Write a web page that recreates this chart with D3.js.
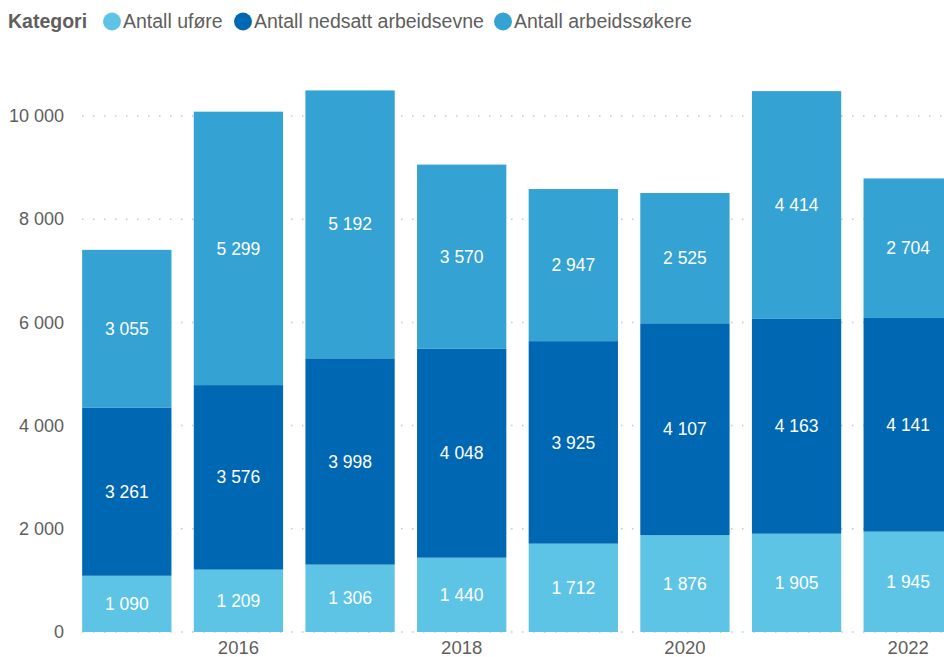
<!DOCTYPE html>
<html><head><meta charset="utf-8">
<script src="https://cdn.jsdelivr.net/npm/d3@7"></script>
<style>body{margin:0;background:#fff;overflow:hidden}svg{display:block;font-family:"Liberation Sans",Arial,sans-serif}</style>
</head><body>
<svg id="c" width="944" height="657"></svg>
<script>
const years = [2015, 2016, 2017, 2018, 2019, 2020, 2021, 2022];
const xTickLabels = [2016, 2018, 2020, 2022];
const yTicks = [0, 2000, 4000, 6000, 8000, 10000];
const seriesNames = ["Antall uføre", "Antall nedsatt arbeidsevne", "Antall arbeidssøkere"];
const seriesColors = ["#5EC4E5", "#0068B2", "#34A2D3"];
const ufore = [1090, 1209, 1306, 1440, 1712, 1876, 1905, 1945];
const nedsatt = [3261, 3576, 3998, 4048, 3925, 4107, 4163, 4141];
const sokere = [3055, 5299, 5192, 3570, 2947, 2525, 4414, 2704];

const svg = d3.select("#c");
const fmt = v => d3.format(",")(v).replace(/,/g, " ");
const x = d3.scaleBand().domain(years).range([71, 964]).paddingInner(0.2).paddingOuter(0.1);
const y = d3.scaleLinear().domain([0, 10000]).range([632, 116]);
const labelColor = "#605E5C";

// gridlines
svg.append("g").selectAll("line").data(yTicks).join("line")
  .attr("x1", 82).attr("x2", 944)
  .attr("y1", d => y(d)).attr("y2", d => y(d))
  .attr("stroke", "#c8c8c8").attr("stroke-width", 1.5)
  .attr("stroke-dasharray", "1.5,9.5").attr("stroke-linecap","butt");

// y axis labels
const yAxis = d3.axisLeft(y).tickValues(yTicks).tickFormat(fmt).tickSize(0).tickPadding(0);
const ya = svg.append("g").attr("transform", "translate(64,0)").call(yAxis);
ya.select(".domain").remove();
ya.selectAll("text").attr("fill", labelColor).attr("font-size", 18).attr("font-family", "Liberation Sans, Arial, sans-serif");

// x axis labels
const xAxis = d3.axisBottom(x).tickValues(xTickLabels).tickSize(0).tickPadding(0);
const xa = svg.append("g").attr("transform", "translate(0,641)").call(xAxis);
xa.select(".domain").remove();
xa.selectAll("text").attr("fill", labelColor).attr("font-size", 18.5).attr("font-family", "Liberation Sans, Arial, sans-serif");

// stacked data
const rows = years.map((yr, i) => ({year: yr, a: ufore[i], b: nedsatt[i], c: sokere[i]}));
const stack = d3.stack().keys(["a", "b", "c"])(rows);
const g = svg.append("g");
stack.forEach((layer, li) => {
  g.append("g").selectAll("rect").data(layer).join("rect")
    .attr("x", d => x(d.data.year)).attr("width", x.bandwidth())
    .attr("y", d => y(d[1])).attr("height", d => y(d[0]) - y(d[1]))
    .attr("fill", seriesColors[li]);
  g.append("g").selectAll("text").data(layer).join("text")
    .attr("x", d => x(d.data.year) + x.bandwidth() / 2)
    .attr("y", d => (y(d[0]) + y(d[1])) / 2)
    .attr("text-anchor", "middle").attr("dy", "0.35em")
    .attr("fill", "#fff").attr("font-size", 17.5)
    .text(d => fmt(d[1] - d[0]));
});

// legend
const lg = svg.append("g");
lg.append("text").attr("x", 8).attr("y", 28).attr("font-size", 19.5).attr("font-weight", "bold").attr("fill", labelColor).text("Kategori");
const legendX = [112, 243, 503];
seriesNames.forEach((n, i) => {
  lg.append("circle").attr("cx", legendX[i]).attr("cy", 21.5).attr("r", 9).attr("fill", seriesColors[i]);
  lg.append("text").attr("x", legendX[i] + 11).attr("y", 28).attr("font-size", 19.5).attr("fill", labelColor).text(n);
});
</script>
</body></html>
